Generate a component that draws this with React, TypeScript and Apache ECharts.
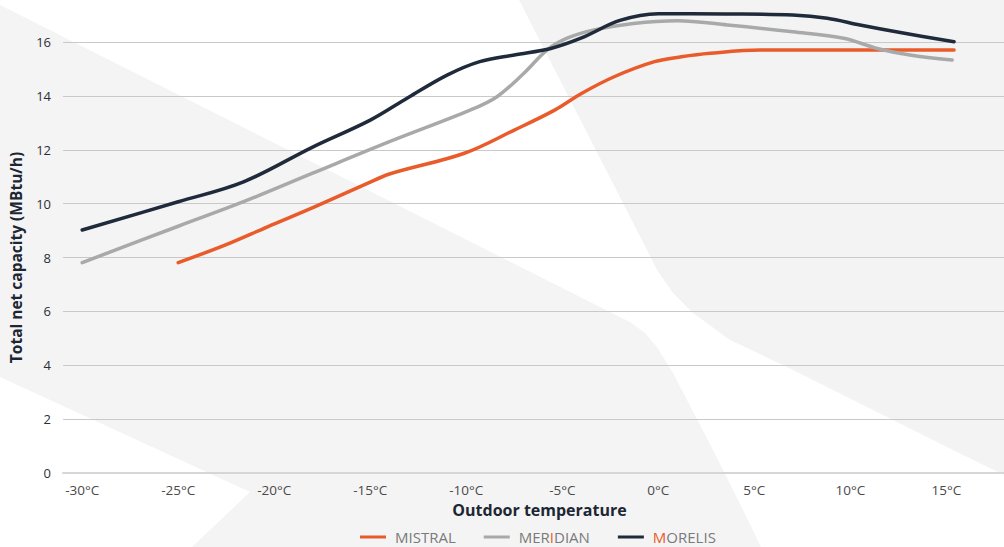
import React, { useEffect, useRef } from "react";
import * as echarts from "echarts";

// Outdoor temperature (°C) / total net capacity (MBtu/h)
const mistral: [number, number][] = [
  [-25, 7.81], [-22.6, 8.45], [-20.35, 9.14], [-17.9, 9.88], [-15.15, 10.75], [-14, 11.1],
  [-10.1, 11.87], [-7.5, 12.73], [-5.4, 13.47], [-4, 14.09], [-2.3, 14.71],
  [-0.2, 15.27], [1.2, 15.45], [2.7, 15.58], [5.3, 15.7], [10, 15.7], [15.4, 15.7],
];
const meridian: [number, number][] = [
  [-30, 7.81], [-25, 9.16], [-21.6, 10.07], [-18, 11.13], [-14, 12.3], [-9.8, 13.47],
  [-8.4, 13.97], [-7, 14.84], [-5.8, 15.7], [-4.75, 16.14], [-3.4, 16.44],
  [-1.3, 16.69], [1, 16.79], [3.6, 16.63], [7, 16.38], [9.65, 16.14],
  [11.4, 15.76], [13.1, 15.52], [15.3, 15.33],
];
const morelis: [number, number][] = [
  [-30, 9.02], [-25, 10.07], [-21.6, 10.81], [-18, 12.1], [-15, 13.1], [-13, 13.95],
  [-11, 14.77], [-9.3, 15.27], [-7.5, 15.52], [-5.6, 15.76], [-4, 16.15],
  [-2, 16.8], [0, 17.05], [3.5, 17.04], [7, 17.0], [8.8, 16.88], [10.5, 16.63],
  [12.6, 16.35], [15.4, 16.01],
];
const xTicks = [-30, -25, -20, -15, -10, -5, 0, 5, 10, 15];
const seriesNames = ["MISTRAL", "MERIDIAN", "MORELIS"];
const seriesColors = ["#e95b2a", "#a8a9a9", "#1f2a3a"];

const FONT = "'Open Sans', 'Noto Sans', sans-serif";

export default function App() {
  const ref = useRef<HTMLDivElement>(null);
  useEffect(() => {
    if (!ref.current) return;
    const chart = echarts.init(ref.current, undefined, { renderer: "svg" });
    const datasets = [mistral, meridian, morelis];
    chart.setOption({
      animation: false,
      backgroundColor: "#ffffff",
      textStyle: { fontFamily: FONT },
      graphic: {
        elements: [
          {
            type: "polygon",
            silent: true,
            z: -10,
            shape: {
              points: [
                [0, 5], [610, 312], [630, 322], [645, 333], [657, 347], [673, 373],
                [713, 450], [743, 510], [761, 547], [192, 547], [250, 492], [0, 377],
              ],
            },
            style: { fill: "#f4f4f4" },
          },
          {
            type: "polygon",
            silent: true,
            z: -10,
            shape: {
              points: [
                [519, 0], [1004, 0], [1004, 475], [953, 450], [787, 367], [730, 340],
                [693, 313], [673, 293], [657, 270], [647, 250],
              ],
            },
            style: { fill: "#f3f3f3" },
          },
        ],
      },
      grid: { left: 62, right: 0, top: 42, bottom: 74 },
      xAxis: {
        type: "value",
        min: -31,
        max: 18,
        name: "Outdoor temperature",
        nameLocation: "middle",
        nameGap: 29,
        nameTextStyle: {
          fontFamily: FONT,
          fontWeight: "bold",
          fontSize: 16,
          color: "#1d2633",
          padding: [0, 0, 0, 12],
        },
        axisLine: { show: true, lineStyle: { color: "#d6d6d6", width: 2 } },
        axisTick: { show: false },
        splitLine: { show: false },
        axisLabel: {
          customValues: xTicks,
          formatter: (v: number) => `${v}°C`,
          color: "#4a4a4a",
          fontSize: 13.5,
          margin: 10,
          fontFamily: FONT,
        },
      },
      yAxis: {
        type: "value",
        min: 0,
        max: 16,
        interval: 2,
        name: "Total net capacity (MBtu/h)",
        nameLocation: "middle",
        nameGap: 39,
        nameTextStyle: {
          fontFamily: FONT,
          fontWeight: "bold",
          fontSize: 15.5,
          color: "#1d2633",
        },
        axisLine: { show: false },
        axisTick: { show: false },
        axisLabel: { color: "#2a2f36", fontSize: 13, margin: 12, fontFamily: FONT, fontWeight: 500 },
        splitLine: { lineStyle: { color: "#c9c9c9", width: 1 } },
      },
      legend: {
        left: 360,
        top: 529,
        padding: 0,
        icon: "rect",
        itemWidth: 26,
        itemHeight: 3,
        itemGap: 28,
        data: seriesNames,
        formatter: (name: string) => {
          if (name === "MERIDIAN") return "{g|MER}{o|I}{g|DIAN}";
          if (name === "MORELIS") return "{o|M}{g|ORELIS}";
          return "{g|MISTRAL}";
        },
        textStyle: {
          fontFamily: FONT,
          fontSize: 15,
          lineHeight: 16,
          color: "#7a7a7a",
          padding: [0, 0, 0, 4],
          rich: {
            g: { color: "#7a7a7a", fontSize: 15, lineHeight: 16, fontFamily: FONT },
            o: { color: "#e95b2a", fontSize: 15, lineHeight: 16, fontFamily: FONT },
          },
        },
      },
      series: seriesNames.map((name, i) => ({
        name,
        type: "line",
        data: datasets[i],
        smooth: 0.35,
        showSymbol: false,
        symbol: "none",
        clip: false,
        color: seriesColors[i],
        lineStyle: { color: seriesColors[i], width: 3.5, cap: "round", join: "round" },
        z: 3 + i,
      })),
    });
    return () => chart.dispose();
  }, []);
  return (
    <div
      ref={ref}
      style={{ position: "absolute", left: 0, top: 0, width: 1004, height: 547 }}
    />
  );
}
